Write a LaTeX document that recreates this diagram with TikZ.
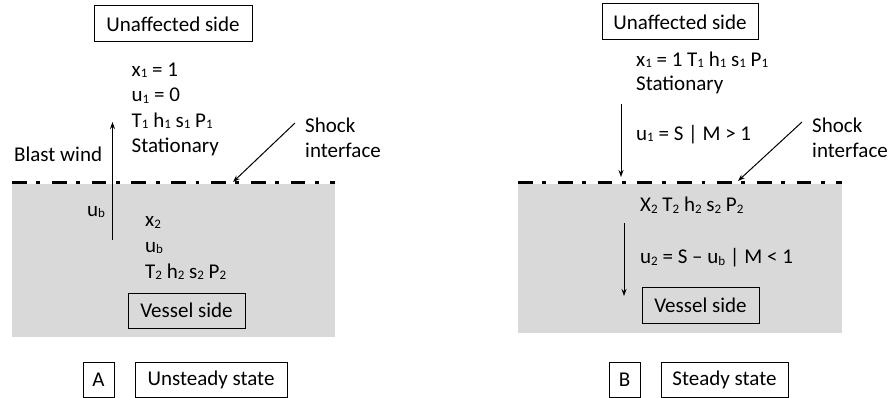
\documentclass[tikz,border=0pt]{standalone}
\usepackage{fontspec}
\setmainfont{Carlito}
\usetikzlibrary{arrows.meta}
\newcommand{\lo}[1]{\raisebox{-0.06em}{\fontsize{13}{13}\selectfont #1}}
\tikzset{
  txt/.style={anchor=base west, inner sep=0pt, font=\fontsize{21}{25}\selectfont},
  boxed/.style={draw, line width=1pt, inner sep=0pt, font=\fontsize{21}{25}\selectfont},
  shock/.style={line width=3pt, dash pattern=on 14.7pt off 9.7pt on 3.7pt off 11.7pt},
  arr/.style={line width=1pt, -{Stealth[length=7pt,width=5pt]}},
  region/.style={fill=black!15, draw=none}
}
\begin{document}
\begin{tikzpicture}[x=1pt,y=-1pt]
\useasboundingbox (0,0) rectangle (889,398);
% ---------- Panel A ----------
\fill[region] (12,184) rectangle (335,337);
\coordinate (La) at (12,183);
\coordinate (Lb) at (335,183);
\draw[shock] (La) -- (Lb);
\node[boxed, minimum width=158pt, minimum height=36pt] (unA) at (173,24) {Unaffected side};
\node[txt] (a1) at (131.5,76.5) {x\lo{1} = 1};
\node[txt] (a2) at (131.5,102) {u\lo{1} = 0};
\node[txt] (a3) at (131.5,127.5) {T\lo{1} h\lo{1} s\lo{1} P\lo{1}};
\node[txt] (a4) at (131.5,153) {Stationary};
\node[txt] (bw) at (14,162) {Blast wind};
\coordinate (bwS) at (112.5,240);
\coordinate (bwE) at (112.5,122);
\draw[arr] (bwS) -- (bwE);
\node[txt] (ubA) at (87,216.5) {u\lo{b}};
\node[txt] (shA1) at (305,133) {Shock};
\node[txt] (shA2) at (305,158) {interface};
\coordinate (shAs) at (295,123);
\coordinate (shAe) at (233,182);
\draw[arr] (shAs) -- (shAe);
\node[txt] (b1) at (145,227) {x\lo{2}};
\node[txt] (b2) at (145,252) {u\lo{b}};
\node[txt] (b3) at (145,278.5) {T\lo{2} h\lo{2} s\lo{2} P\lo{2}};
\node[boxed, minimum width=117pt, minimum height=35pt] (vsA) at (186.5,310.5) {Vessel side};
\node[boxed, minimum width=31pt, minimum height=35pt] (lA) at (98.5,379.5) {A};
\node[boxed, minimum width=152pt, minimum height=35pt] (stA) at (211,379.5) {Unsteady state};
% ---------- Panel B ----------
\fill[region] (518,184) rectangle (842,333);
\coordinate (Ra) at (518,183);
\coordinate (Rb) at (842,183);
\draw[shock] (Ra) -- (Rb);
\node[boxed, minimum width=156pt, minimum height=36pt] (unB) at (680,22) {Unaffected side};
\node[txt] (c1) at (636,66.5) {x\lo{1} = 1 T\lo{1} h\lo{1} s\lo{1} P\lo{1}};
\node[txt] (c2) at (636,91) {Stationary};
\coordinate (dS) at (621,104);
\coordinate (dE) at (621,177);
\draw[arr] (dS) -- (dE);
\node[txt] (c3) at (636,140.5) {u\lo{1} = S | M > 1};
\node[txt] (shB1) at (812,133) {Shock};
\node[txt] (shB2) at (812,158) {interface};
\coordinate (shBs) at (802,122);
\coordinate (shBe) at (738,181);
\draw[arr] (shBs) -- (shBe);
\node[txt] (d1) at (640,212) {X\lo{2} T\lo{2} h\lo{2} s\lo{2} P\lo{2}};
\coordinate (eS) at (624,223);
\coordinate (eE) at (624,296);
\draw[arr] (eS) -- (eE);
\node[txt] (d2) at (640,264) {u\lo{2} = S -- u\lo{b} | M < 1};
\node[boxed, minimum width=117pt, minimum height=36pt] (vsB) at (700.5,305) {Vessel side};
\node[boxed, minimum width=31pt, minimum height=35pt] (lB) at (624.5,379.5) {B};
\node[boxed, minimum width=127pt, minimum height=35pt] (stB) at (724.5,379.5) {Steady state};
\end{tikzpicture}
\end{document}
